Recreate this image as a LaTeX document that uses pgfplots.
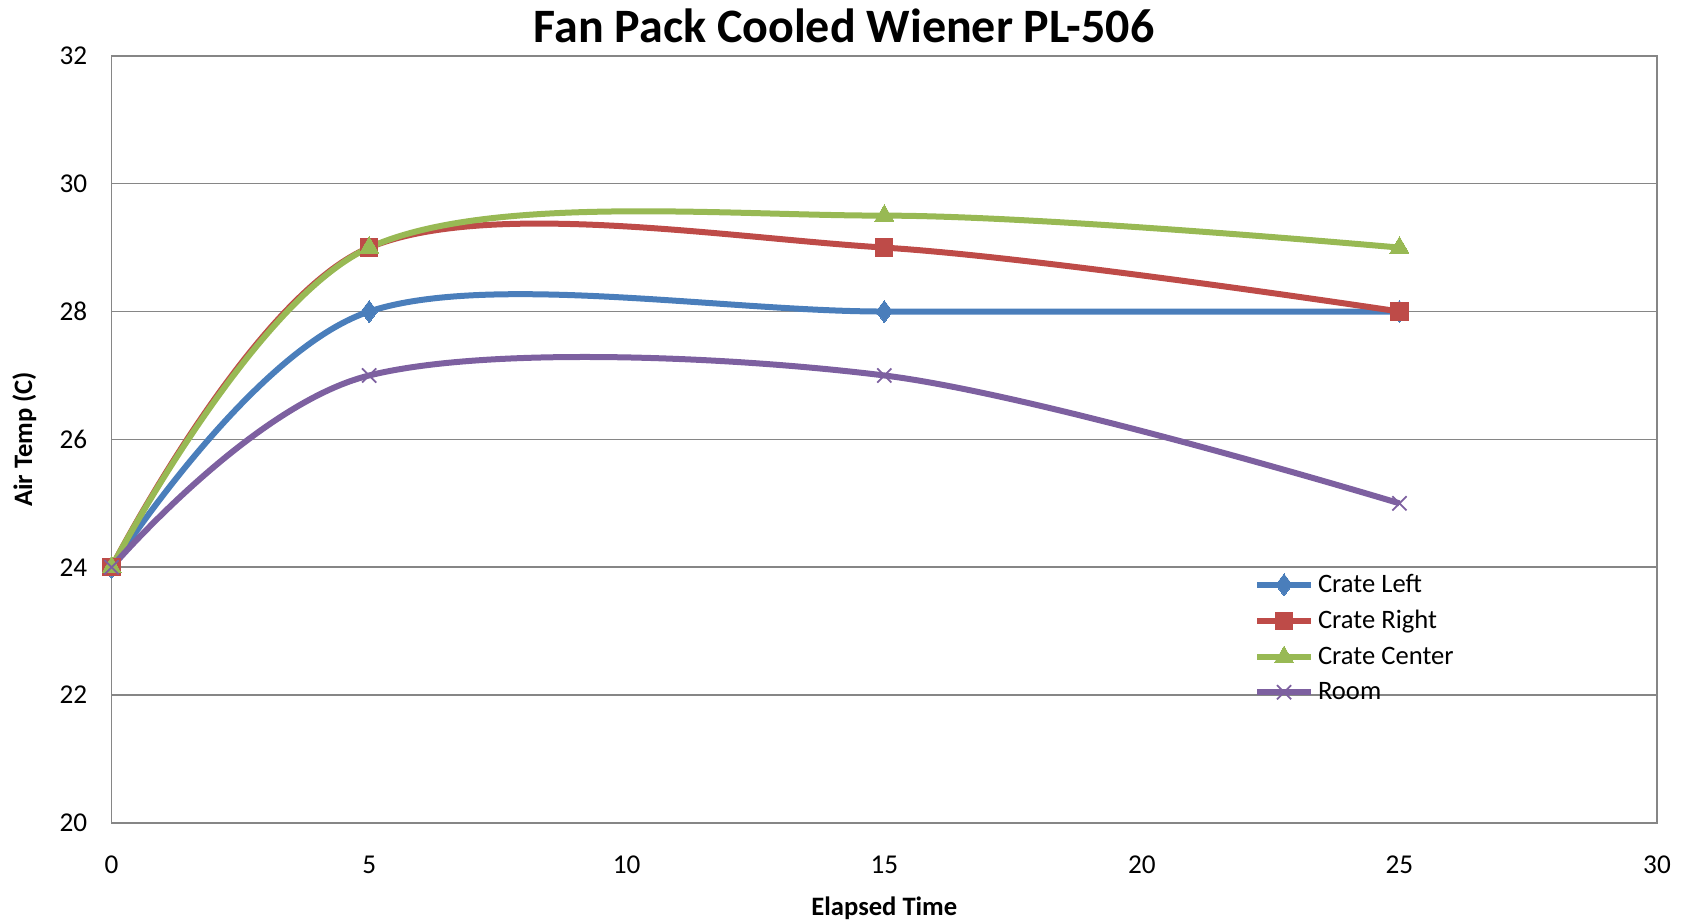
\documentclass[border=0pt]{standalone}
\usepackage{pgfplots}
\pgfplotsset{compat=1.18}
\usepackage{fontspec}
\setmainfont{Carlito}
\definecolor{cblue}{HTML}{4A7EBB}
\definecolor{cred}{HTML}{BE4B48}
\definecolor{cgreen}{HTML}{98B954}
\definecolor{cpurple}{HTML}{7D60A0}
\definecolor{cgrid}{HTML}{868686}
\begin{document}
\begin{tikzpicture}
\begin{axis}[
  name=ax,
  scale only axis,
  width=772.7pt, height=383.6pt,
  xmin=0, xmax=30, ymin=20, ymax=32,
  xtick={0,5,...,30}, ytick={20,22,...,32},
  ymajorgrids,
  grid style={cgrid, line width=0.8pt},
  axis line style={cgrid, line width=0.8pt},
  tick style={draw=none},
  /pgf/number format/assume math mode=true,
  tick label style={font=\fontsize{13.6}{16}\selectfont},
  xticklabel style={yshift=-13pt},
  yticklabel style={xshift=-8.7pt},
  title={Fan Pack Cooled Wiener PL-506},
  title style={font=\fontsize{24}{28}\selectfont\bfseries, at={(0.474,1)}, yshift=-3pt},
  xlabel={Elapsed Time},
  ylabel={Air Temp (C)},
  label style={font=\fontsize{13.3}{16}\selectfont\bfseries},
  xlabel style={yshift=-4.5pt},
  ylabel style={yshift=4.7pt},
  legend style={at={(0.739,0.33)}, anchor=north west, draw=none, fill=none,
    font=\fontsize{13.3}{15}\selectfont, row sep=3.5pt, inner sep=0pt,
    /tikz/every even column/.append style={column sep=0pt}},
  legend cell align=left,
  legend image code/.code={\draw[mark repeat=2,mark phase=2] plot coordinates {(0pt,0pt)(13.5pt,0pt)(27pt,0pt)};},
  every axis plot/.append style={line width=3pt, smooth, tension=0.55},
]
\addplot[cblue, mark=diamond*, mark size=5.5pt, mark options={solid, line width=0pt, fill=cblue}] coordinates {(0,24) (5,28) (15,28) (25,28)};
\addlegendentry{Crate Left}
\addplot[cred, mark=square*, mark size=4.3pt, mark options={line width=0pt, fill=cred}] coordinates {(0,24) (5,29) (15,29) (25,28)};
\addlegendentry{Crate Right}
\addplot[cgreen, mark=triangle*, mark size=5.5pt, mark options={line width=0pt, fill=cgreen}] coordinates {(0,24) (5,29) (15,29.5) (25,29)};
\addlegendentry{Crate Center}
\addplot[cpurple, mark=x, mark size=5pt, mark options={line width=0.9pt}] coordinates {(0,24) (5,27) (15,27) (25,25)};
\addlegendentry{Room}
\end{axis}
\pgfresetboundingbox
\path ([shift={(-55.8pt,-49pt)}]ax.south west) rectangle ([shift={(13pt,27.9pt)}]ax.north east);
\end{tikzpicture}
\end{document}
